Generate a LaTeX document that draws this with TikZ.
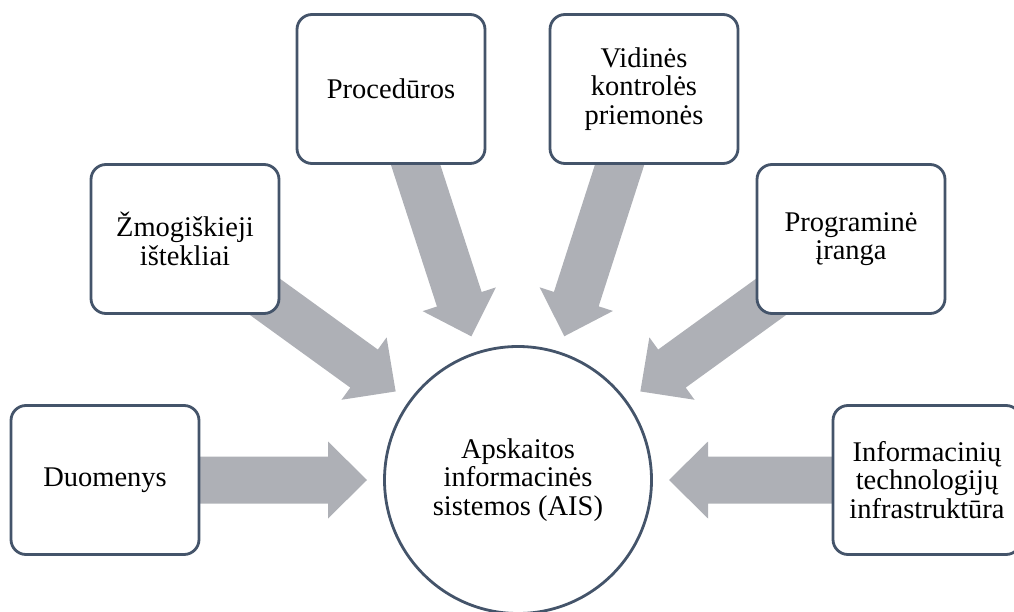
\documentclass[tikz,border=0pt]{standalone}
\usepackage{fontspec}
\setmainfont{Liberation Serif}
\usetikzlibrary{calc}
\definecolor{frame}{HTML}{44546A}
\definecolor{feedgray}{HTML}{AEB0B6}
\tikzset{
  labelfont/.style={font=\fontsize{28.5}{28.5}\selectfont},
  box/.style={draw=frame, line width=2.8pt, fill=white, rounded corners=15pt,
    minimum width=188pt, minimum height=149pt, inner sep=0pt, align=center, labelfont},
  hub/.style={circle, draw=frame, line width=2.8pt, fill=white,
    minimum size=267pt, inner sep=0pt, align=center, labelfont},
  feed/.style={fill=feedgray}
}
% Block arrow from the centre of #1 towards the centre of #2,
% stopping 151pt short of the target centre.
\newcommand\feedarrow[2]{%
  \fill[feed] let \p1=(#1.center), \p2=(#2.center),
    \n1={atan2(\y2-\y1,\x2-\x1)},
    \n2={veclen(\x2-\x1,\y2-\y1)-151} in
    {[shift={(\p1)}, rotate=\n1]
    (0,-23.5) -- (\n2-39,-23.5) -- (\n2-39,-38.5) -- (\n2,0)
    -- (\n2-39,38.5) -- (\n2-39,23.5) -- (0,23.5) -- cycle};
}
\begin{document}
\begin{tikzpicture}[x=1pt, y=1pt]
  \useasboundingbox (0,0) rectangle (1014,611);
  % positions of the hub and the surrounding boxes
  \coordinate (cAis)  at (518,131);
  \coordinate (cDat)  at (105,131);
  \coordinate (cInf)  at (927,131);
  \coordinate (cHum)  at (185,372);
  \coordinate (cProg) at (851,372);
  \coordinate (cProc) at (391,522);
  \coordinate (cCtrl) at (644,522);

  % arrows first, so boxes cover their tails
  \feedarrow{cDat}{cAis}
  \feedarrow{cInf}{cAis}
  \feedarrow{cHum}{cAis}
  \feedarrow{cProg}{cAis}
  \feedarrow{cProc}{cAis}
  \feedarrow{cCtrl}{cAis}

  \node[hub] (ais) at (cAis) {Apskaitos\\informacinės\\sistemos (AIS)};
  \node[box] (dat)  at (cDat)  {Duomenys};
  \node[box] (inf)  at (cInf)  {Informacinių\\technologijų\\infrastruktūra};
  \node[box] (hum)  at (cHum)  {Žmogiškieji\\ištekliai};
  \node[box] (prog) at (cProg) {Programinė\\įranga};
  \node[box] (proc) at (cProc) {Procedūros};
  \node[box] (ctrl) at (cCtrl) {Vidinės\\kontrolės\\priemonės};
\end{tikzpicture}
\end{document}
